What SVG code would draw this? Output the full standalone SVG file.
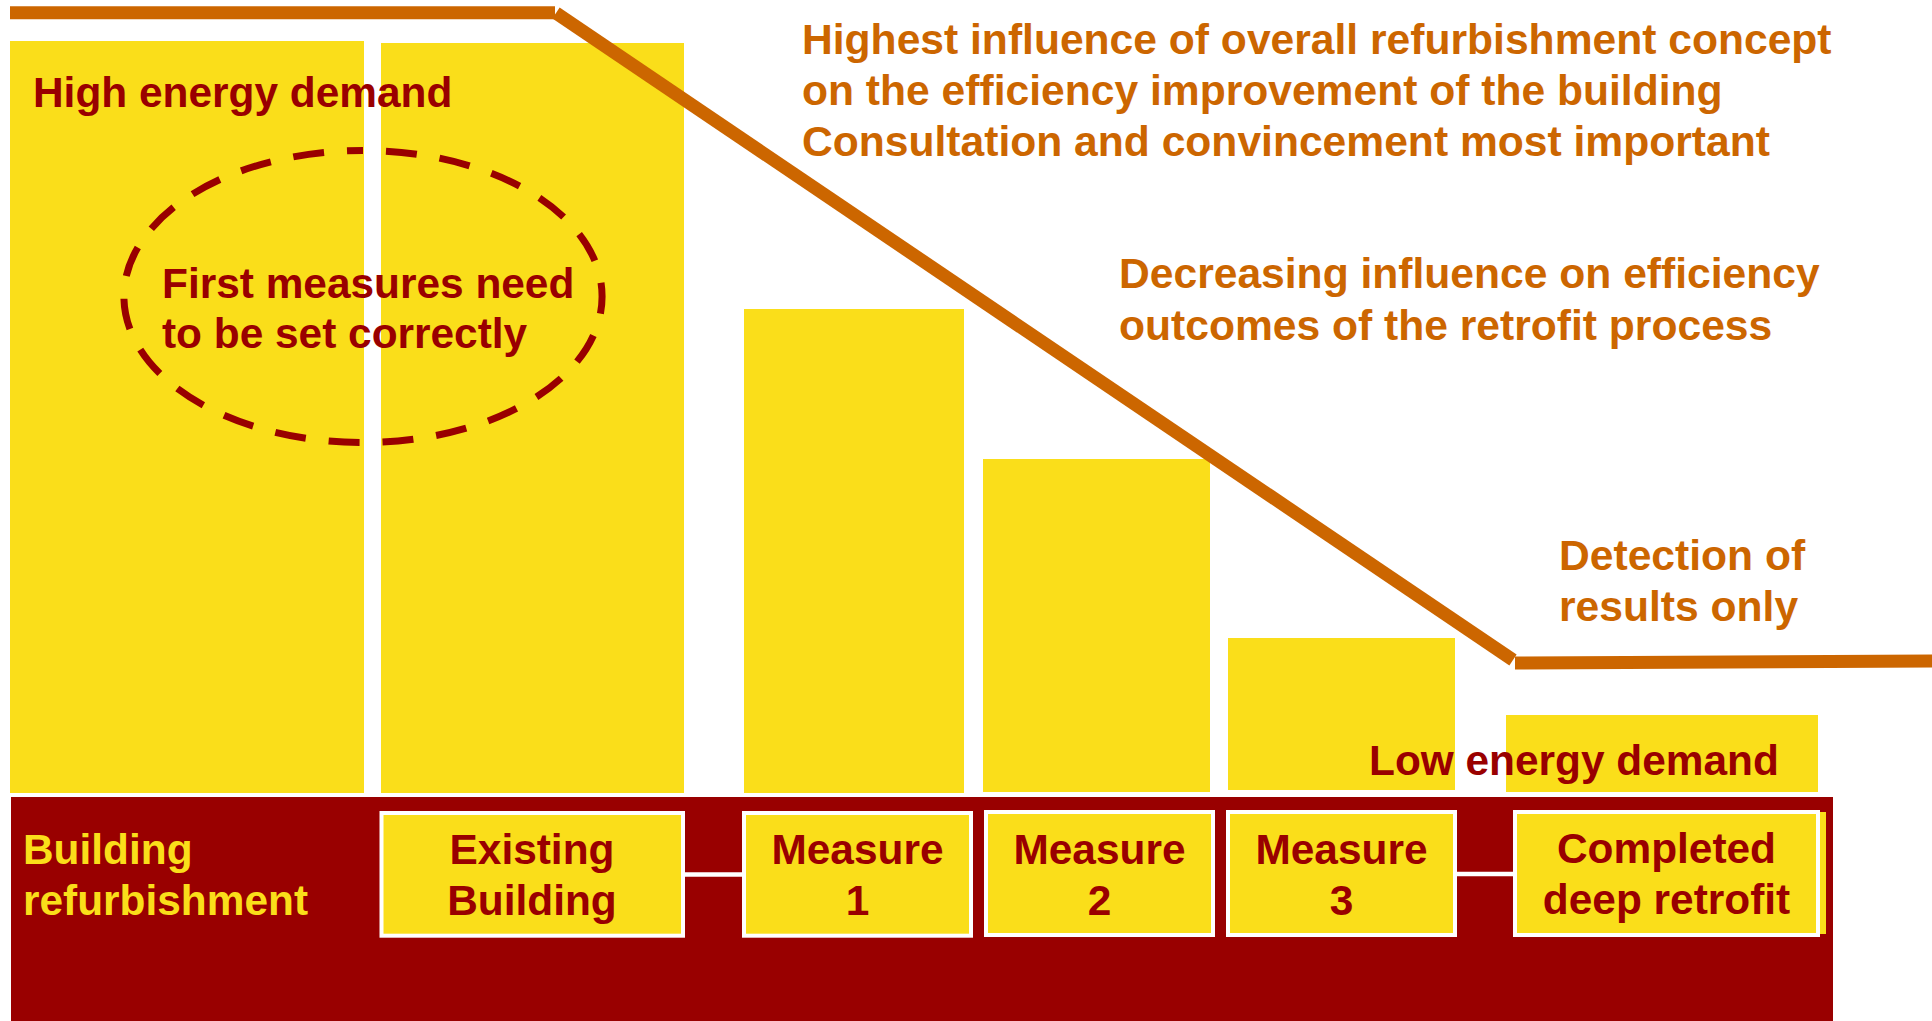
<svg xmlns="http://www.w3.org/2000/svg" width="1932" height="1021" viewBox="0 0 1932 1021">
<style>
text{font-family:"Liberation Sans",Arial,sans-serif;font-weight:bold;font-size:42.4px}
.dr{fill:#990000}
.yl{fill:#FADE1A}
.or{fill:#CC6600;font-size:42.6px}
.bar{fill:#FADE1A}
.box{fill:#FADE1A;stroke:#FFFFFF;stroke-width:4}
.conn{stroke:#FFFFFF;stroke-width:4.5;fill:none}
.infl{stroke:#CC6600;stroke-width:13;stroke-linecap:butt;fill:none}
.mid{text-anchor:middle}
</style>
<rect width="1932" height="1021" fill="#FFFFFF"/>
<g id="bars">
<rect class="bar" x="10" y="41" width="354" height="752"/>
<rect class="bar" x="381" y="43" width="303" height="750"/>
<rect class="bar" x="744" y="309" width="220" height="484"/>
<rect class="bar" x="983" y="459" width="227" height="333"/>
<rect class="bar" x="1228" y="638" width="227" height="152"/>
<rect class="bar" x="1506" y="715" width="312" height="77"/>
</g>
<g id="influence-line">
<line class="infl" x1="10" y1="12.7" x2="555" y2="12.7"/>
<line class="infl" x1="556" y1="13" x2="1513" y2="660"/>
<line class="infl" x1="1515" y1="663" x2="1932" y2="661"/>
</g>
<g id="labels-top">
<text class="dr" x="33" y="106.7">High energy demand</text>
<text class="or" x="802" y="53.5">Highest influence of overall refurbishment concept</text>
<text class="or" x="802" y="104.5">on the efficiency improvement of the building</text>
<text class="or" x="802" y="155.5">Consultation and convincement most important</text>
<text class="or" x="1119" y="288">Decreasing influence on efficiency</text>
<text class="or" x="1119" y="340">outcomes of the retrofit process</text>
<text class="or" x="1559" y="570">Detection of</text>
<text class="or" x="1559" y="621">results only</text>
<text class="dr" x="1369" y="775">Low energy demand</text>
</g>
<g id="first-measures">
<path d="M 363 150.5 A 239 146 0 1 1 363 442.5 A 239 146 0 1 1 363 150.5" fill="none" stroke="#990000" stroke-width="7" stroke-dasharray="31 23" stroke-dashoffset="31"/>
<text class="dr" x="162" y="298">First measures need</text>
<text class="dr" x="162" y="348">to be set correctly</text>
</g>
<g id="band">
<rect x="11" y="797" width="1822" height="224" fill="#990000"/>
<text class="yl" x="23" y="864">Building</text>
<text class="yl" x="23" y="915">refurbishment</text>
</g>
<g id="connectors">
<line class="conn" x1="685" y1="874.5" x2="742" y2="874.5"/>
<line class="conn" x1="1457" y1="874" x2="1513" y2="874"/>
</g>
<g id="existing-building">
<rect class="box" x="381.5" y="813" width="301.5" height="122.7"/>
<text class="dr mid" x="532" y="864">Existing</text>
<text class="dr mid" x="532" y="915">Building</text>
</g>
<g id="measure-1">
<rect class="box" x="744" y="813" width="227" height="122.7"/>
<text class="dr mid" x="857.5" y="864">Measure</text>
<text class="dr mid" x="857.5" y="915">1</text>
</g>
<g id="measure-2">
<rect class="box" x="986" y="812" width="227" height="123"/>
<text class="dr mid" x="1099.5" y="864">Measure</text>
<text class="dr mid" x="1099.5" y="915">2</text>
</g>
<g id="measure-3">
<rect class="box" x="1228" y="812" width="227" height="123"/>
<text class="dr mid" x="1341.5" y="864">Measure</text>
<text class="dr mid" x="1341.5" y="915">3</text>
</g>
<g id="completed-retrofit">
<rect x="1517" y="812" width="309" height="122" fill="#FADE1A"/>
<rect class="box" x="1515" y="812" width="303" height="123" fill="none"/>
<text class="dr mid" x="1666.5" y="863">Completed</text>
<text class="dr mid" x="1666.5" y="914">deep retrofit</text>
</g>
</svg>
